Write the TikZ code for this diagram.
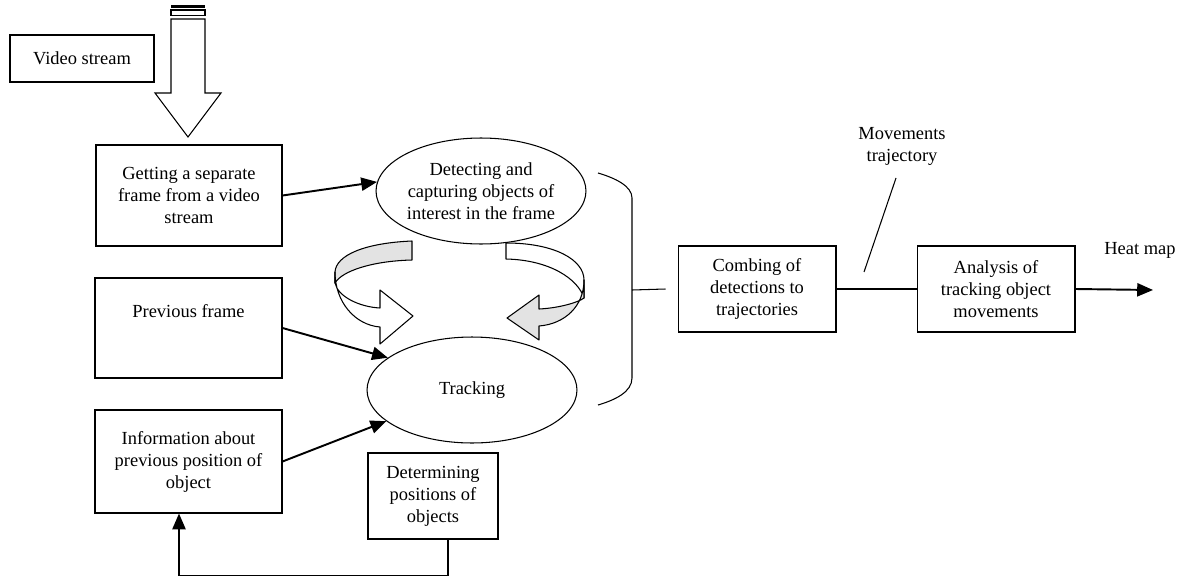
\documentclass[tikz,border=0pt]{standalone}
\usepackage{fontspec}
\setmainfont{Liberation Serif}
\usetikzlibrary{arrows.meta,shapes.geometric}

\begin{document}
\begin{tikzpicture}[x=0.02cm, y=-0.02cm, line width=0.6pt,
		every node/.style={font=\fontsize{10.5}{12.5}\selectfont, align=center, inner sep=0pt},
		box/.style={draw, rectangle},
		oval/.style={draw, ellipse, minimum width=4.2cm, minimum height=2.12cm},
		arr/.style={-{Triangle[length=9pt,width=7.5pt]}, line width=1.1pt},
		ribbon/.style={draw, line join=round}]
	\useasboundingbox (0,0) rectangle (1185,578);

	\node[box, minimum width=2.88cm, minimum height=0.94cm] (video) at (82,58.5) {Video stream};
	\node[box, minimum width=3.72cm, minimum height=2.02cm] (frame) at (189,195.5) {Getting a separate\\frame from a video\\stream};
	\node[oval] (detect) at (481,191) {Detecting and\\capturing objects of\\interest in the frame};
	\node[box, minimum width=3.74cm, minimum height=2cm] (prev) at (188.5,328) {};
	\node (prevtxt) at (188.5,311) {Previous frame};
	\node[oval] (track) at (472,390) {Tracking};
	\node[box, minimum width=3.74cm, minimum height=2.06cm] (info) at (188.5,461.5) {Information about\\previous position of\\object};
	\node[box, minimum width=2.6cm, minimum height=1.72cm] (determ) at (433,496) {Determining\\positions of\\objects};
	\node[box, minimum width=3.16cm, minimum height=1.72cm] (comb) at (757,289) {Combing of\\detections to\\trajectories};
	\node[box, minimum width=3.16cm, minimum height=1.72cm] (anal) at (996,289) {Analysis of\\tracking object\\movements};
	\node (heat) at (1140,250) {Heat map};
	\node (moves) at (902,146.5) {Movements\\trajectory};

	\coordinate (mvtop) at (896,178);
	\coordinate (mvbot) at (864,272);
	\coordinate (heatend) at (1153,290);
	\coordinate (brk) at (632,290);

	% striped block arrow from the stream
	\fill (171,5) rectangle (205,7.5);
	\draw (171,10) rectangle (205,15.5);
	\draw (171,19) -- (171,93) -- (155,93) -- (188,137) -- (221,93) -- (205,93) -- (205,19) -- cycle;

	% curved arrows between detecting and tracking
	\filldraw[ribbon, fill=gray!22] (412,241) .. controls (365,243) and (336,255) .. (335,272) -- (335,283) .. controls (342,271) and (372,261) .. (412,260) -- cycle;
	\filldraw[ribbon, fill=white] (335,272) .. controls (335,302) and (355,325) .. (380,327) -- (380,344) -- (413,316) -- (380,290) -- (380,308) .. controls (360,307) and (338,297) .. (335,283) -- cycle;
	\filldraw[ribbon, fill=white] (506,243) .. controls (555,243) and (584,260) .. (584,280) -- (584,298) .. controls (578,279) and (550,260) .. (506,259) -- cycle;
	\filldraw[ribbon, fill=gray!22] (584,280) .. controls (584,306) and (565,324) .. (539,326) -- (539,340) -- (507,318) -- (539,295) -- (539,309) .. controls (560,308) and (579,302) .. (584,298) -- cycle;

	% bracket
	\draw (598,173) .. controls (615,178) and (632,186) .. (632,198) -- (632,378) .. controls (632,392) and (615,400) .. (598,405);

	\draw[arr] (frame.east) -- (detect.175);
	\draw[arr] (prev.east) -- (track.159);
	\draw[arr] (info.east) -- (track.200);
	\draw[arr] ([xshift=0.3cm]determ.south) -- ++(0,36) -| ([xshift=-0.19cm]info.south);
	\draw (brk) -- ([xshift=-0.24cm]comb.west);
	\draw[line width=1.3pt] (comb.east) -- (anal.west);
	\draw[arr] (anal.east) -- (heatend);
	\draw (mvtop) -- (mvbot);
\end{tikzpicture}
\end{document}
